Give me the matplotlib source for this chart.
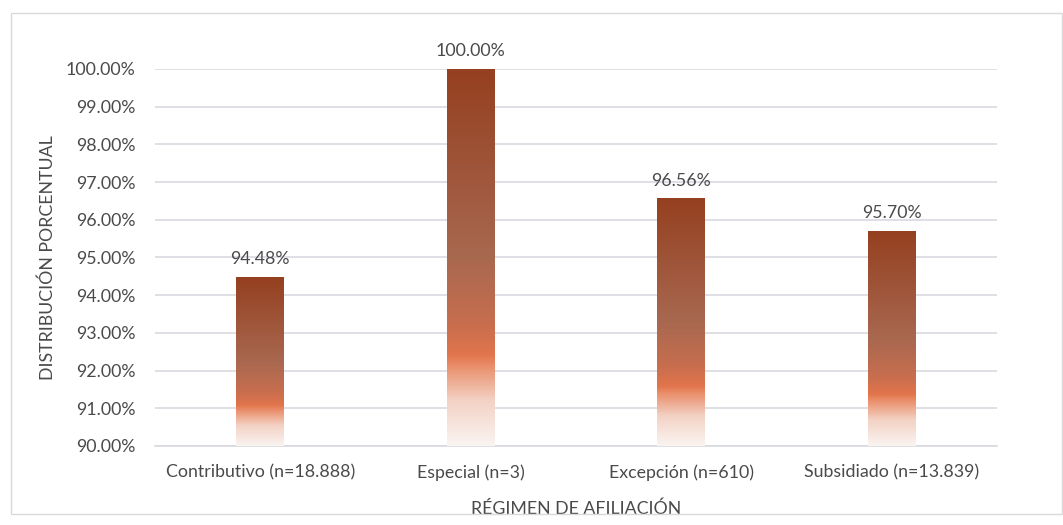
import numpy as np
import matplotlib
matplotlib.use("Agg")
import matplotlib.pyplot as plt
from matplotlib.colors import LinearSegmentedColormap
from matplotlib.patches import Rectangle

categories = ["Contributivo (n=18.888)", "Especial (n=3)", "Excepción (n=610)", "Subsidiado (n=13.839)"]
values = [94.48, 100.00, 96.56, 95.70]
value_labels = ["94.48%", "100.00%", "96.56%", "95.70%"]
yticks = [90, 91, 92, 93, 94, 95, 96, 97, 98, 99, 100]
ytick_labels = [f"{t:.2f}%" for t in yticks]

plt.rcParams['font.family'] = ['Lato', 'DejaVu Sans']
text_color = "#4A4A4A"
grid_color = "#D5D7DE"
fs = 12.8

fig = plt.figure(figsize=(10.63, 5.25), dpi=100)
fig.patches.append(Rectangle((11/1063, 1 - 514/525), (1062-11)/1063, (514-13)/525,
                             transform=fig.transFigure, fill=False,
                             edgecolor="#D9D9D9", linewidth=1))
ax = fig.add_axes([155/1063, 1 - 446/525, (997-155)/1063, (446-69)/525])

ymin, ymax = 90, 100
x = np.arange(len(categories))
width = 0.228

stops = [
    (0.00, (250/255, 244/255, 241/255)),
    (0.12, (243/255, 210/255, 196/255)),
    (0.21, (234/255, 143/255, 108/255)),
    (0.24, (226/255, 117/255, 76/255)),
    (0.32, (200/255, 110/255, 78/255)),
    (0.50, (168/255, 104/255, 80/255)),
    (1.00, (149/255, 64/255, 32/255)),
]
cmap = LinearSegmentedColormap.from_list("bargrad", stops)
grad = np.linspace(0, 1, 256).reshape(-1, 1)

bars = ax.bar(x, [v - ymin for v in values], width=width, bottom=ymin,
              color="none", edgecolor="none", zorder=3)
for b, v, lab in zip(bars, values, value_labels):
    x0 = b.get_x()
    ax.imshow(grad, cmap=cmap, origin="lower", aspect="auto",
              extent=[x0, x0 + b.get_width(), ymin, v], zorder=3,
              interpolation="bilinear")
    ax.annotate(lab, (b.get_x() + b.get_width() / 2, v), xytext=(0, 7),
                textcoords="offset points", ha="center", va="bottom",
                fontsize=fs, color=text_color)
ax.set_xlim(-0.5, len(categories) - 0.5)
ax.set_ylim(ymin, ymax)

ax.set_yticks(yticks)
ax.set_yticklabels(ytick_labels)
ax.set_xticks(x)
ax.set_xticklabels(categories)
ax.tick_params(axis="both", length=0, labelsize=fs, labelcolor=text_color)
ax.tick_params(axis="y", pad=14)
ax.tick_params(axis="x", pad=13)
ax.yaxis.grid(True, color=grid_color, linewidth=1.1)
ax.set_axisbelow(True)
for s in ["top", "right", "left"]:
    ax.spines[s].set_visible(False)
ax.spines["bottom"].set_color(grid_color)
ax.spines["bottom"].set_linewidth(1.1)

ax.set_ylabel("DISTRIBUCIÓN PORCENTUAL", fontsize=fs, color=text_color, labelpad=7)
ax.set_xlabel("RÉGIMEN DE AFILIACIÓN", fontsize=fs, color=text_color, labelpad=14)

fig.savefig("out.png", dpi=100)
